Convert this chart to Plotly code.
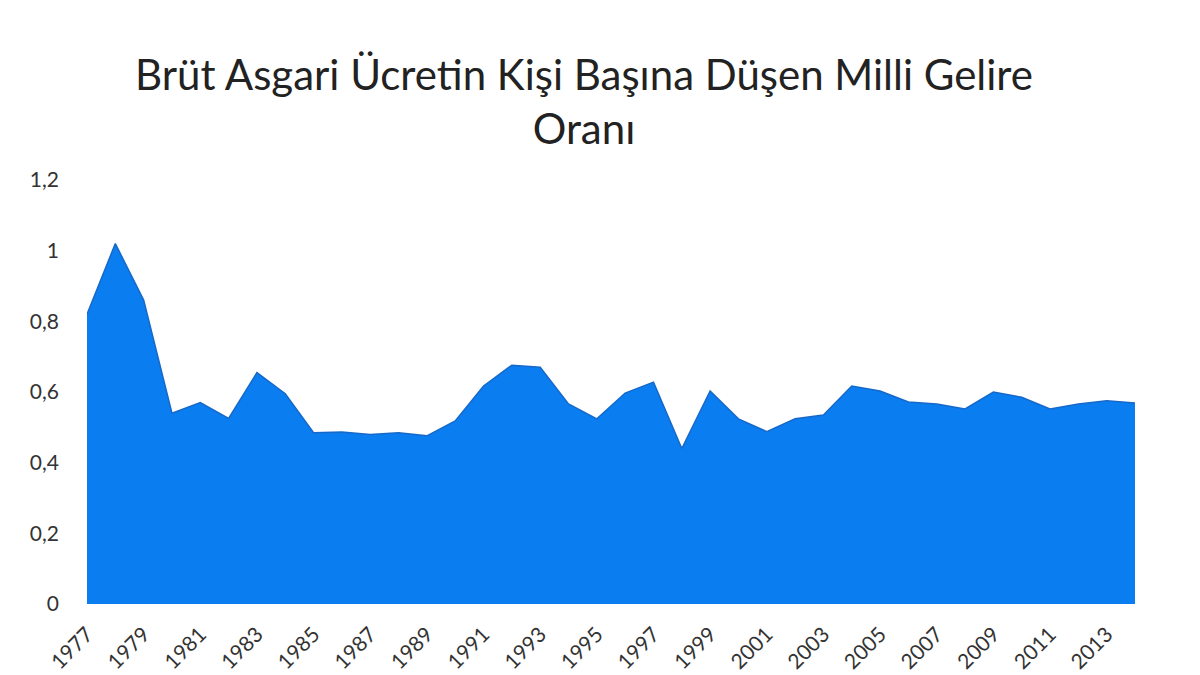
import plotly.graph_objects as go

# Yıllar ve oran değerleri
yillar = list(range(1977, 2015))
oran = [
    0.82, 1.02, 0.86, 0.54, 0.57, 0.525, 0.655, 0.595, 0.485, 0.487,
    0.48, 0.485, 0.476, 0.518, 0.617, 0.676, 0.67, 0.566, 0.524, 0.597,
    0.628, 0.44, 0.603, 0.524, 0.488, 0.524, 0.535, 0.617, 0.603, 0.572,
    0.566, 0.552, 0.6, 0.585, 0.552, 0.566, 0.575, 0.569,
]
x_etiketler = list(range(1977, 2014, 2))
y_etiketler = [0, 0.2, 0.4, 0.6, 0.8, 1, 1.2]
y_yazilar = ["0", "0,2", "0,4", "0,6", "0,8", "1", "1,2"]

fig = go.Figure()
fig.add_trace(go.Scatter(
    x=yillar,
    y=oran,
    mode="lines",
    fill="tozeroy",
    fillcolor="#0a7df0",
    line=dict(color="#1769c9", width=1.5),
))

fig.update_layout(
    template="none",
    width=1200,
    height=675,
    paper_bgcolor="white",
    plot_bgcolor="white",
    showlegend=False,
    margin=dict(l=79, r=73, t=172, b=79),
    title=dict(
        text="Brüt Asgari Ücretin Kişi Başına Düşen Milli Gelire<br>Oranı",
        x=0.48,
        xanchor="center",
        y=0.879,
        yanchor="top",
        font=dict(family="Lato", size=42, color="#222"),
    ),
    font=dict(family="Lato", color="#333"),
)
# etiketler kesilmesin diye biraz yukarıda tutuldu
fig.update_xaxes(
    range=[1977, 2014],
    tickvals=x_etiketler,
    ticktext=[str(v) for v in x_etiketler],
    tickangle=-45,
    tickfont=dict(size=21),
    ticklabelstandoff=13,
    showgrid=False,
    zeroline=False,
    showline=False,
    ticks="",
    automargin=False,
)
fig.update_yaxes(
    range=[0, 1.2],
    tickvals=y_etiketler,
    ticktext=y_yazilar,
    tickfont=dict(size=21),
    ticklabelstandoff=27,
    showgrid=False,
    zeroline=False,
    showline=False,
    ticks="",
    automargin=False,
)

fig.write_html("out.html")
